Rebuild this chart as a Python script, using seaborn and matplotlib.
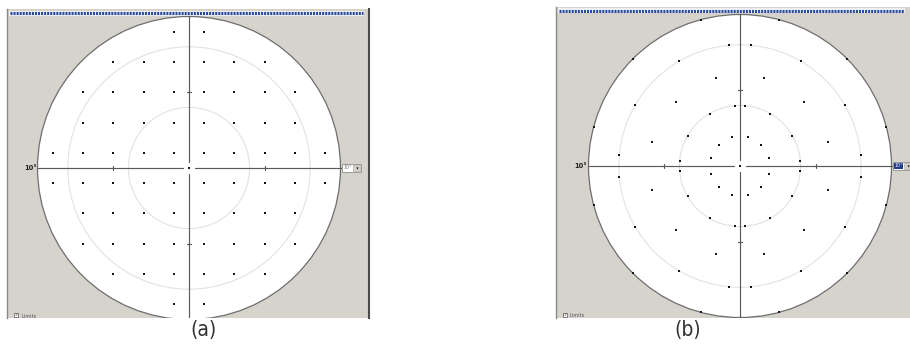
import numpy as np
import pandas as pd
import matplotlib
matplotlib.use("Agg")
import matplotlib.pyplot as plt
import seaborn as sns
from matplotlib.patches import Circle, Rectangle

# ---- test locations (degrees of visual field) ----
# (a) rectangular grid: y position of each row and the x positions in it
grid_rows = [27, 21, 15, 9, 3, -3, -9, -15, -21, -27]
grid_cols = [
    [-3, 3],
    [-15, -9, -3, 3, 9, 15],
    [-21, -15, -9, -3, 3, 9, 15, 21],
    [-21, -15, -9, -3, 3, 9, 15, 21],
    [-27, -21, -15, -9, -3, 3, 9, 15, 21, 27],
    [-27, -21, -15, -9, -3, 3, 9, 15, 21, 27],
    [-21, -15, -9, -3, 3, 9, 15, 21],
    [-21, -15, -9, -3, 3, 9, 15, 21],
    [-15, -9, -3, 3, 9, 15],
    [-3, 3],
]

# (b) radial pattern: ring eccentricities and the meridians tested on each ring
meridians_oblique = [15, 45, 75, 105, 135, 165, 195, 225, 255, 285, 315, 345]
meridians_paired = [5, 30, 60, 85, 95, 120, 150, 175,
                    185, 210, 240, 265, 275, 300, 330, 355]
ring_radii = [6, 12, 18, 24, 30]
ring_meridians = [meridians_oblique, meridians_paired, meridians_oblique,
                  meridians_paired, meridians_oblique]

field_radius = 30
iso_circles = [12, 24]
axis_ticks = [-15, 15]
scale_text = "10°"
panel_labels = ["(a)", "(b)"]

grid_df = pd.DataFrame(
    [(x, y) for y, xs in zip(grid_rows, grid_cols) for x in xs], columns=["x", "y"]
)
radial = [(r * np.cos(np.radians(a)), r * np.sin(np.radians(a)))
          for r, angs in zip(ring_radii, ring_meridians) for a in angs]
radial_df = pd.DataFrame(radial, columns=["x", "y"])

# ---- figure ----
sns.set_style("white")
plt.rcParams["font.family"] = ["DejaVu Sans"]
W, H = 910, 363
S = 5.05  # pixels per degree
fig = plt.figure(figsize=(W / 100, H / 100), dpi=100)
fig.patch.set_facecolor("white")

PANEL_GREY = "#d6d3cc"
AXIS_COL = "#5a5a5a"


def make_panel(box, center, df, spine_right, scale_x, dropdown_x, dropdown_sel, bar_y):
    x0, y0, x1, y1 = box
    cx, cy = center
    ax = fig.add_axes([x0 / W, 1 - y1 / H, (x1 - x0) / W, (y1 - y0) / H])
    ax.set_xlim((x0 - cx) / S, (x1 - cx) / S)
    ax.set_ylim((cy - y1) / S, (cy - y0) / S)
    ax.set_facecolor(PANEL_GREY)
    ax.set_xticks([])
    ax.set_yticks([])
    for side in ("top", "bottom"):
        ax.spines[side].set_visible(False)
    ax.spines["left"].set_color("#8a8a8a")
    ax.spines["left"].set_linewidth(1.0)
    if spine_right:
        ax.spines["right"].set_color("#4a4a4a")
        ax.spines["right"].set_linewidth(1.5)
    else:
        ax.spines["right"].set_visible(False)

    def P(px, py):
        return (px - cx) / S, (cy - py) / S

    # progress-style title bar
    bx0, bx1 = x0 + 3, min(x1 - 6, W + 5)
    a, b = P(bx0 - 1, bar_y - 2.5)
    c, d = P(bx1 + 1, bar_y + 2.5)
    ax.add_patch(Rectangle((a, d), c - a, b - d, facecolor="#eef0f5",
                           edgecolor="none", zorder=1))
    ya = P(0, bar_y)[1]
    ax.plot([P(bx0, 0)[0], P(bx1, 0)[0]], [ya, ya], color="#29499c",
            lw=2.2, dashes=(0.66, 0.34), solid_capstyle="butt", zorder=2)

    # field disc and isopter circles
    ax.add_patch(Circle((0, 0), field_radius, facecolor="white",
                        edgecolor="#6e6e6e", lw=0.9, zorder=2))
    for r in iso_circles:
        ax.add_patch(Circle((0, 0), r, facecolor="none",
                            edgecolor="#e2e2e2", lw=0.8, zorder=3))

    # meridian axes with a gap at fixation
    gap = 1.2
    kw = dict(color=AXIS_COL, lw=0.85, zorder=4)
    ax.plot([-field_radius, -gap], [0, 0], **kw)
    ax.plot([gap, field_radius], [0, 0], **kw)
    ax.plot([0, 0], [-field_radius, -gap], **kw)
    ax.plot([0, 0], [gap, field_radius], **kw)
    for t in axis_ticks:
        ax.plot([t, t], [-0.35, 0.35], **kw)
        ax.plot([-0.35, 0.35], [t, t], **kw)

    # test points and fixation mark
    sns.scatterplot(data=df, x="x", y="y", ax=ax, marker="s", s=2.6,
                    color="#151515", linewidth=0, zorder=6, legend=False)
    ax.scatter([0], [0], marker="s", s=2.6, color="#151515", linewidth=0, zorder=6)
    ax.set_xlabel("")
    ax.set_ylabel("")

    # scale label on the left of the horizontal meridian
    sx, sy = P(scale_x, cy)
    ax.text(sx, sy, scale_text, ha="right", va="center", fontsize=4.8,
            fontweight="bold", color="#222222", zorder=7)

    # scale drop-down box on the right
    dx0 = dropdown_x
    a, b = P(dx0, cy - 4)
    c, d = P(dx0 + 19, cy + 4.5)
    ax.add_patch(Rectangle((a, d), c - a, b - d, facecolor="white",
                           edgecolor="#8c8c8c", lw=0.6, zorder=7, clip_on=True))
    if dropdown_sel:
        a2, b2 = P(dx0 + 1, cy - 3)
        c2, d2 = P(dx0 + 10, cy + 3.5)
        ax.add_patch(Rectangle((a2, d2), c2 - a2, b2 - d2, facecolor="#1d3c8c",
                               edgecolor="none", zorder=8))
        tcol = "white"
    else:
        tcol = "#777777"
    tx, ty = P(dx0 + 5.5, cy)
    ax.text(tx, ty, scale_text, ha="center", va="center", fontsize=3.4,
            color=tcol, zorder=9, clip_on=True)
    a3, b3 = P(dx0 + 11, cy - 3)
    c3, d3 = P(dx0 + 18, cy + 3.5)
    ax.add_patch(Rectangle((a3, d3), c3 - a3, b3 - d3, facecolor="#d4d0c8",
                           edgecolor="#a8a8a8", lw=0.4, zorder=8, clip_on=True))
    ax.scatter([P(dx0 + 14.5, 0)[0]], [P(0, cy + 0.3)[1]], marker="v", s=2.5,
               color="#111111", linewidth=0, zorder=9, clip_on=True)

    # "Limits" check box in the lower left corner
    kx, ky = P(x0 + 7, y1 - 5)
    kx2, ky2 = P(x0 + 11, y1 - 1)
    ax.add_patch(Rectangle((kx, ky2), kx2 - kx, ky - ky2, facecolor="white",
                           edgecolor="#555555", lw=0.5, zorder=7))
    mx, my = P(x0 + 9, y1 - 3)
    ax.text(mx, my, "✓", ha="center", va="center", fontsize=3.2,
            color="#222222", zorder=8)
    lx, ly = P(x0 + 14, y1 - 2)
    ax.text(lx, ly, "Limits", ha="left", va="center", fontsize=3.6,
            color="#555555", zorder=8, clip_on=True)
    return ax


make_panel((7, 9, 369, 318), (189, 168), grid_df, True, 37, 342, False, 13.5)
make_panel((556, 7, 910, 318), (740, 166), radial_df, False, 587, 893, True, 10.8)

label_font = ["Liberation Sans Narrow", "DejaVu Sans"]
for text, px in zip(panel_labels, [203, 688]):
    fig.text(px / W, 1 - 330 / H, text, ha="center", va="center",
             fontsize=15, color="#333333", family=label_font,
             fontstretch="condensed")

fig.savefig("out.png", dpi=100, facecolor="white")
